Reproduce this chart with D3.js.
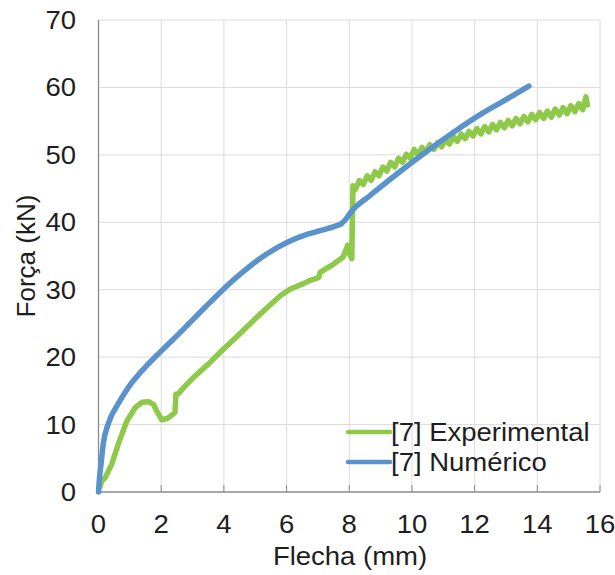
<!DOCTYPE html>
<html><head><meta charset="utf-8">
<script src="https://cdn.jsdelivr.net/npm/d3@7"></script>
<style>html,body{margin:0;padding:0;background:#fff;}</style>
</head><body>
<svg id="c" width="615" height="575"></svg>
<script>
const xTicks = [0, 2, 4, 6, 8, 10, 12, 14, 16];
const yTicks = [0, 10, 20, 30, 40, 50, 60, 70];
const xTitle = "Flecha (mm)";
const yTitle = "Força (kN)";
const seriesNames = ["[7] Experimental", "[7] Numérico"];

// [7] Experimental : [flecha mm, força kN]
const experimental = [
  [0.05,0.8],[0.1,1.6],[0.21,2.1],[0.42,4.1],[0.63,7.1],[0.9,10.5],[1.17,12.5],[1.38,13.3],
  [1.6,13.4],[1.75,13.0],[1.86,12.0],[2.02,10.7],[2.23,11.0],[2.44,11.8],[2.47,14.5],[2.55,14.6],
  [2.76,15.7],[3.08,17.2],[3.51,19.0],[3.9,20.8],[4.4,23.0],[5.16,26.4],[5.8,29.1],[6.12,30.1],
  [6.54,30.9],[6.76,31.4],[7.02,31.8],[7.08,32.6],[7.5,33.8],[7.8,34.8],[7.95,36.6],[8.0,35.4],
  [8.08,34.6],[8.1,40.0],[8.12,45.4],
  [8.20,44.9],[8.32,46.2],[8.45,45.6],[8.57,46.9],[8.70,46.2],[8.82,47.5],[8.95,46.9],[9.07,48.2],
  [9.20,47.6],[9.32,48.9],[9.45,48.2],[9.57,49.5],[9.70,48.9],[9.82,50.1],[9.95,49.5],[10.07,50.8],
  [10.20,50.0],[10.32,51.1],[10.45,50.4],[10.57,51.5],[10.70,50.8],[10.82,51.8],[10.95,51.2],[11.07,52.2],
  [11.20,51.6],[11.32,52.7],[11.45,52.0],[11.57,53.1],[11.70,52.4],[11.82,53.5],[11.95,52.8],[12.07,53.9],
  [12.20,53.1],[12.32,54.2],[12.45,53.4],[12.57,54.5],[12.70,53.7],[12.82,54.8],[12.95,54.0],[13.07,55.1],
  [13.20,54.3],[13.32,55.4],[13.45,54.6],[13.57,55.7],[13.70,54.9],[13.82,56.0],[13.95,55.2],[14.07,56.3],
  [14.20,55.4],[14.32,56.5],[14.45,55.6],[14.57,56.8],[14.70,55.9],[14.82,57.0],[14.95,56.1],[15.07,57.3],
  [15.20,56.4],[15.32,57.6],[15.45,56.7],[15.55,58.6],[15.60,57.4]
];

// [7] Numérico
const numerico = [
  [0,0],[0.03,2],[0.08,4.1],[0.15,7.1],[0.31,10.1],[0.63,13.1],[0.95,15.5],[1.49,18.5],[2.02,21.0],
  [2.66,23.9],[3.4,27.4],[3.88,29.6],[4.52,32.3],[5.27,35.0],[6.01,37.0],[6.65,38.2],[7.1,38.8],
  [7.6,39.5],[7.75,39.8],[8.14,42.0],[8.67,44.0],[9.53,47.2],[10.38,50.2],[11.34,53.4],[12.19,56.0],
  [13.04,58.3],[13.73,60.2]
];

const colors = ["#8fc94a", "#5a93cc"];
const font = "'Liberation Sans', Arial, sans-serif";
const textColor = "#1e1e1e";
const sx = 1.1;

const svg = d3.select("#c");
const x = d3.scaleLinear().domain([0, 16]).range([98.5, 600]);
const y = d3.scaleLinear().domain([0, 70]).range([492, 20]);

// gridlines
const grid = svg.append("g");
grid.selectAll("line.h").data(yTicks.filter(d => d > 0)).enter().append("line")
  .attr("x1", x(0)).attr("x2", x(16)).attr("y1", d => y(d)).attr("y2", d => y(d))
  .attr("stroke", "#dcdcdc").attr("stroke-width", 1);
grid.selectAll("line.v").data(xTicks.filter(d => d > 0)).enter().append("line")
  .attr("y1", y(0)).attr("y2", y(70)).attr("x1", d => x(d)).attr("x2", d => x(d))
  .attr("stroke", "#dcdcdc").attr("stroke-width", 1);

// axis lines
svg.append("line").attr("x1", x(0)).attr("x2", x(16)).attr("y1", y(0)).attr("y2", y(0))
  .attr("stroke", "#8a8a8a").attr("stroke-width", 1.3);
svg.append("line").attr("x1", x(0)).attr("x2", x(0)).attr("y1", y(0)).attr("y2", y(70))
  .attr("stroke", "#8a8a8a").attr("stroke-width", 1.3);
// x ticks (inside)
svg.selectAll("line.xt").data(xTicks).enter().append("line")
  .attr("x1", d => x(d)).attr("x2", d => x(d)).attr("y1", y(0)).attr("y2", y(0) - 7)
  .attr("stroke", "#8a8a8a").attr("stroke-width", 1);

// tick labels
svg.selectAll("text.xl").data(xTicks).enter().append("text")
  .attr("transform", d => `translate(${x(d)},533) scale(${sx},1)`)
  .attr("text-anchor", "middle").attr("font-family", font).attr("font-size", 25)
  .attr("fill", textColor).text(d => d);
svg.selectAll("text.yl").data(yTicks).enter().append("text")
  .attr("transform", d => `translate(76,${y(d) + 9}) scale(${sx},1)`)
  .attr("text-anchor", "end").attr("font-family", font).attr("font-size", 25)
  .attr("fill", textColor).text(d => d);

// axis titles
svg.append("text").attr("transform", `translate(350,565) scale(${sx},1)`)
  .attr("text-anchor", "middle").attr("font-family", font).attr("font-size", 25)
  .attr("fill", textColor).text(xTitle);
svg.append("text").attr("transform", `translate(35,256) rotate(-90)`)
  .attr("text-anchor", "middle").attr("font-family", font).attr("font-size", 26)
  .attr("fill", textColor).text(yTitle);

// lines
const lineLin = d3.line().x(d => x(d[0])).y(d => y(d[1]));
const lineSmooth = d3.line().x(d => x(d[0])).y(d => y(d[1])).curve(d3.curveMonotoneX);
[[experimental, lineLin], [numerico, lineSmooth]].forEach(([s, gen], i) => {
  svg.append("path").datum(s).attr("d", gen).attr("fill", "none")
    .attr("stroke", colors[i]).attr("stroke-width", 5.5)
    .attr("stroke-linejoin", "round").attr("stroke-linecap", "round");
});

// legend
const lg = svg.append("g");
seriesNames.forEach((n, i) => {
  const ly = 432 + i * 30;
  lg.append("line").attr("x1", 348).attr("x2", 390).attr("y1", ly).attr("y2", ly)
    .attr("stroke", colors[i]).attr("stroke-width", 4.5).attr("stroke-linecap", "round");
  lg.append("text").attr("transform", `translate(391,${ly + 8.5}) scale(${sx},1)`)
    .attr("font-family", font).attr("font-size", 25).attr("fill", textColor).text(n);
});
</script>
</body></html>
